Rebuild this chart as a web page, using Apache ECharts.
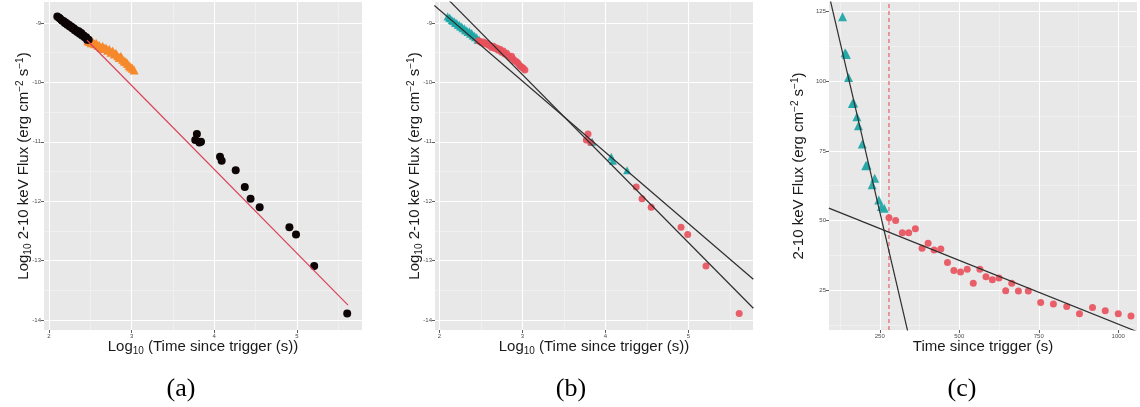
<!DOCTYPE html>
<html>
<head>
<meta charset="utf-8">
<script src="https://cdn.jsdelivr.net/npm/echarts@6/dist/echarts.min.js"></script>
<style>
  html, body { margin: 0; padding: 0; background: #ffffff; }
  #chart { width: 1140px; height: 407px; }
</style>
</head>
<body>
<div id="chart"></div>
<script>
// ---- Afterglow light curve, log10 time (s) vs log10 2-10 keV flux ----
const logTime = [
  2.10, 2.12, 2.13, 2.15, 2.16, 2.18, 2.19, 2.21, 2.22, 2.24, 2.25, 2.27, 2.28,
  2.30, 2.31, 2.33, 2.34, 2.36, 2.37, 2.39, 2.40, 2.42, 2.43, 2.45, 2.46, 2.48,
  2.47, 2.49, 2.51, 2.53, 2.55, 2.57, 2.59, 2.61, 2.63, 2.65, 2.67, 2.69, 2.71,
  2.73, 2.75, 2.77, 2.79, 2.81, 2.83, 2.85, 2.87, 2.89, 2.91, 2.93, 2.95, 2.97,
  2.99, 3.01, 3.03,
  3.77, 3.79, 3.82, 3.84, 4.07, 4.09, 4.26, 4.37, 4.44, 4.55, 4.91, 4.99, 5.21, 5.61
];
const logFlux = [
  -8.89, -8.91, -8.92, -8.95, -8.96, -8.97, -9.00, -9.00, -9.03, -9.03, -9.06, -9.06, -9.09,
  -9.09, -9.12, -9.12, -9.15, -9.14, -9.18, -9.17, -9.21, -9.21, -9.24, -9.24, -9.28, -9.28,
  -9.30, -9.31, -9.33, -9.32, -9.35, -9.34, -9.37, -9.38, -9.41, -9.39, -9.43, -9.42, -9.46,
  -9.44, -9.49, -9.47, -9.52, -9.51, -9.55, -9.58, -9.56, -9.61, -9.64, -9.65, -9.68, -9.72,
  -9.74, -9.76, -9.79,
  -10.97, -10.87, -11.01, -11.00, -11.25, -11.32, -11.48, -11.76, -11.96, -12.10, -12.44, -12.56, -13.09, -13.89
];
// panel (a) grouping: 0 = black circle, 1 = orange triangle
const groupA = [
  0,0,0,0,0,0,0,0,0,0,0,0,0,0,0,0,0,0,0,0,0,0,0,0,0,0,
  1,1,1,1,1,1,1,1,1,1,1,1,1,1,1,1,1,1,1,1,1,1,1,1,1,1,1,1,1,
  0,0,0,0,0,0,0,0,0,0,0,0,0,0
];
// panel (b) grouping: 0 = cyan triangle, 1 = red circle
const groupB = [
  0,0,0,0,0,0,0,0,0,0,0,0,0,0,0,0,0,0,0,0,0,0,0,0,0,0,
  1,1,1,1,1,1,1,1,1,1,1,1,1,1,1,1,1,1,1,1,1,1,1,1,1,1,1,1,1,
  1,1,1,0,0,0,0,1,1,1,1,1,1,1
];

// single power-law fit (panel a), end points in log space
const fitATime = [2.46, 5.62];
const fitAFlux = [-9.29, -13.75];
// two fitted power laws (panel b)
const fitB1Time = [1.94, 5.78];
const fitB1Flux = [-8.706, -13.314];
const fitB2Time = [1.94, 5.78];
const fitB2Flux = [-8.368, -13.802];

// ---- Panel (c): linear time (s) vs 2-10 keV flux ----
const cTriTime = [133, 141, 145, 152, 164, 168, 178, 183, 195, 206, 210, 226, 234, 247, 255, 264];
const cTriFlux = [123.2, 110.3, 109.6, 101.4, 92.0, 92.2, 87.3, 84.0, 77.5, 69.7, 69.9, 62.8, 65.2, 57.4, 55.0, 54.4];
const cDotTime = [279, 300, 321, 341, 362, 383, 402, 421, 442, 463, 483, 504, 525, 544, 565,
                  584, 604, 625, 646, 665, 686, 717, 756, 796, 838, 878, 919, 959, 1000, 1040];
const cDotFlux = [51.0, 50.0, 45.6, 45.6, 47.0, 40.0, 41.8, 39.4, 39.8, 34.9, 32.0, 31.5, 32.5, 27.5, 32.5,
                  29.8, 28.7, 29.3, 24.8, 27.5, 24.7, 24.7, 20.5, 20.0, 19.1, 16.5, 18.7, 17.6, 16.5, 15.7];
const fitC1Time = [90, 340];
const fitC1Flux = [131.3, 9.2];
const fitC2Time = [90, 1059];
const fitC2Flux = [54.45, 10.07];
const breakTime = [279, 279];
const breakFlux = [10.66, 128.5];

// tick positions
const logTimeTicks = [2, 3, 4, 5];
const logFluxTicks = [-14, -13, -12, -11, -10, -9];
const timeTicks = [250, 500, 750, 1000];
const fluxTicks = [25, 50, 75, 100, 125];

const pairs = (xs, ys) => xs.map((x, i) => [x, ys[i]]);
const pick = (groups, g) => logTime.map((t, i) => [t, logFlux[i]]).filter((_, i) => groups[i] === g);

const SANS = 'Liberation Sans';
const nameRich = {
  sub: { fontSize: 10, lineHeight: 10, verticalAlign: 'bottom', fontFamily: SANS, color: '#1a1a1a' },
  sup: { fontSize: 10, lineHeight: 10, verticalAlign: 'top', fontFamily: SANS, color: '#1a1a1a' }
};
const nameStyle = { fontSize: 15, lineHeight: 18, fontFamily: SANS, color: '#1a1a1a', rich: nameRich };

function axisBase(ticks, extra) {
  return Object.assign({
    type: 'value',
    axisLine: { show: false },
    axisTick: { show: true, length: 3, customValues: ticks, lineStyle: { color: '#333333', width: 0.8 } },
    axisLabel: { customValues: ticks, fontSize: 6, color: '#4d4d4d', fontFamily: SANS, margin: 3,
                 formatter: (v) => String(Math.round(v)) },
    splitLine: { show: true, lineStyle: { color: '#ffffff', width: 1.1 } },
    minorTick: { show: false, splitNumber: 2 },
    minorSplitLine: { show: true, lineStyle: { color: '#f5f5f5', width: 0.6 } },
    nameLocation: 'middle',
    nameMoveOverlap: false,
    nameTextStyle: nameStyle
  }, extra);
}

const yName = 'Log{sub|10} 2-10 keV Flux (erg cm{sup|−2} s{sup|−1})';
const xName = 'Log{sub|10} (Time since trigger (s))';
const panelGrid = (left, width) => ({
  left: left, top: 2, width: width, height: 328, show: true,
  backgroundColor: '#e8e8e8', borderWidth: 0, containLabel: false, outerBoundsMode: 'none'
});
const caption = (x, text) => ({
  type: 'text', x: x, y: 389,
  style: { text: text, fontSize: 26, fontFamily: 'Liberation Serif', fill: '#000000', align: 'center', verticalAlign: 'middle' }
});
const fitLine = (xi, yi, xs, ys, color) => ({
  type: 'line', xAxisIndex: xi, yAxisIndex: yi, showSymbol: false, symbol: 'none', clip: true,
  lineStyle: { color: color, width: 1.2 }, data: pairs(xs, ys), z: 4
});

const option = {
  animation: false,
  backgroundColor: '#ffffff',
  grid: [panelGrid(44, 318), panelGrid(435, 318), panelGrid(829, 308)],
  xAxis: [
    axisBase(logTimeTicks, { gridIndex: 0, min: 1.939, max: 5.789, minInterval: 1, maxInterval: 1, name: xName, nameGap: 8 }),
    axisBase(logTimeTicks, { gridIndex: 1, min: 1.948, max: 5.776, minInterval: 1, maxInterval: 1, name: xName, nameGap: 8 }),
    axisBase(timeTicks, { gridIndex: 2, min: 90.4, max: 1058.9, minInterval: 250, maxInterval: 250, name: 'Time since trigger (s)', nameGap: 8 })
  ],
  yAxis: [
    axisBase(logFluxTicks, { gridIndex: 0, min: -14.168, max: -8.646, minInterval: 1, maxInterval: 1, name: yName, nameRotate: 90, nameGap: 11 }),
    axisBase(logFluxTicks, { gridIndex: 1, min: -14.168, max: -8.646, minInterval: 1, maxInterval: 1, name: yName, nameRotate: 90, nameGap: 11 }),
    axisBase(fluxTicks, { gridIndex: 2, min: 10.66, max: 128.5, minInterval: 25, maxInterval: 25, name: '2-10 keV Flux (erg cm{sup|−2} s{sup|−1})', nameRotate: 90, nameGap: 21 })
  ],
  series: [
    // panel (a)
    { type: 'scatter', xAxisIndex: 0, yAxisIndex: 0, symbol: 'triangle', symbolSize: 9,
      itemStyle: { color: '#f5892b', opacity: 1 }, data: pick(groupA, 1), z: 2 },
    { type: 'scatter', xAxisIndex: 0, yAxisIndex: 0, symbol: 'circle', symbolSize: 8,
      itemStyle: { color: '#0d0505', opacity: 1 }, data: pick(groupA, 0), z: 3 },
    fitLine(0, 0, fitATime, fitAFlux, '#d9425a'),
    // panel (b)
    { type: 'scatter', xAxisIndex: 1, yAxisIndex: 1, symbol: 'triangle', symbolSize: 8,
      itemStyle: { color: '#1fa6a6', opacity: 0.95 }, data: pick(groupB, 0), z: 2 },
    { type: 'scatter', xAxisIndex: 1, yAxisIndex: 1, symbol: 'circle', symbolSize: 7,
      itemStyle: { color: '#e8505c', opacity: 0.9 }, data: pick(groupB, 1), z: 3 },
    fitLine(1, 1, fitB1Time, fitB1Flux, '#2e2e2e'),
    fitLine(1, 1, fitB2Time, fitB2Flux, '#2e2e2e'),
    // panel (c)
    { type: 'line', xAxisIndex: 2, yAxisIndex: 2, showSymbol: false, symbol: 'none', clip: true,
      lineStyle: { color: '#e24a4a', width: 1, type: [4, 3] }, data: pairs(breakTime, breakFlux), z: 1 },
    { type: 'scatter', xAxisIndex: 2, yAxisIndex: 2, symbol: 'triangle', symbolSize: 9,
      itemStyle: { color: '#23a6a6', opacity: 0.95 }, data: pairs(cTriTime, cTriFlux), z: 2 },
    { type: 'scatter', xAxisIndex: 2, yAxisIndex: 2, symbol: 'circle', symbolSize: 7,
      itemStyle: { color: '#e8505c', opacity: 0.9 }, data: pairs(cDotTime, cDotFlux), z: 3 },
    fitLine(2, 2, fitC1Time, fitC1Flux, '#2e2e2e'),
    fitLine(2, 2, fitC2Time, fitC2Flux, '#2e2e2e')
  ],
  graphic: [caption(181, '(a)'), caption(571, '(b)'), caption(962, '(c)')]
};

const chart = echarts.init(document.getElementById('chart'), null, { renderer: 'canvas' });
chart.setOption(option);
</script>
</body>
</html>
